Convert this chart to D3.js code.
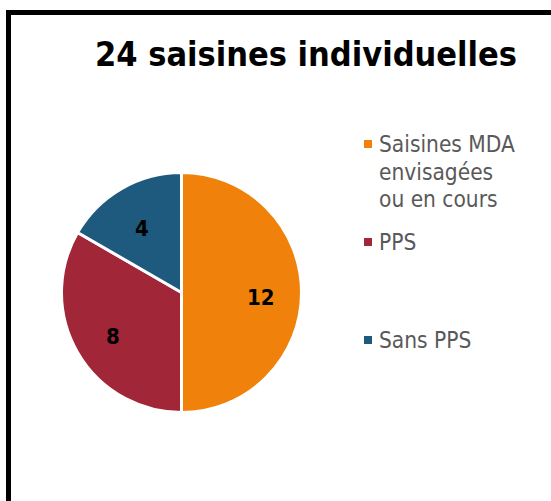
<!DOCTYPE html>
<html>
<head>
<meta charset="utf-8">
<script src="https://cdn.jsdelivr.net/npm/d3@7"></script>
<style>
  body { margin: 0; background: #fff; }
</style>
</head>
<body>
<div class="canvas"></div>
<script>
const categories = ['Saisines MDA envisagées ou en cours', 'PPS', 'Sans PPS'];
const legendLines = [['Saisines MDA', 'envisagées', 'ou en cours'], ['PPS'], ['Sans PPS']];
const values = [12, 8, 4];
const colours = ['#f0820b', '#a02638', '#1e5a7d'];
const title = '24 saisines individuelles';

const dims = { width: 551, height: 501, radius: 120 };
const cent = { x: 181.5, y: 292.5 };
const font = '"DejaVu Sans Condensed", "DejaVu Sans", sans-serif';

const svg = d3.select('.canvas')
    .append('svg')
    .attr('width', dims.width)
    .attr('height', dims.height)
;

// frame, runs off the right / bottom edge
svg.append('rect')
    .attr('x', 8.5).attr('y', 12.5)
    .attr('width', 600).attr('height', 600)
    .attr('fill', 'none')
    .attr('stroke', '#000')
    .attr('stroke-width', 5)
;

svg.append('text')
    .attr('x', 306).attr('y', 66)
    .attr('text-anchor', 'middle')
    .attr('font-family', font)
    .attr('font-weight', 'bold')
    .attr('font-size', 34)
    .attr('fill', '#000')
    .text(title)
;

const colour = d3.scaleOrdinal().domain(categories).range(colours);

const pie = d3.pie().sort(null).value(d => d.value);
const data = categories.map((c, i) => ({ name: c, value: values[i] }));

const arcPath = d3.arc().outerRadius(dims.radius).innerRadius(0);
const labelArc = d3.arc().outerRadius(dims.radius * 1.32).innerRadius(0);

const graph = svg.append('g')
    .attr('transform', `translate(${cent.x}, ${cent.y})`);

graph.selectAll('path')
    .data(pie(data))
    .enter().append('path')
    .attr('d', arcPath)
    .attr('fill', d => colour(d.data.name))
    .attr('stroke', '#fff')
    .attr('stroke-width', 3)
;

graph.selectAll('text')
    .data(pie(data))
    .enter().append('text')
    .attr('transform', d => `translate(${labelArc.centroid(d)})`)
    .attr('dy', '0.55em')
    .attr('text-anchor', 'middle')
    .attr('font-family', font)
    .attr('font-weight', 'bold')
    .attr('font-size', 22)
    .attr('fill', '#000')
    .text(d => d.data.value)
;

// legend
const legendGroup = svg.append('g').attr('transform', 'translate(364, 144)');
const items = legendGroup.selectAll('g')
    .data(categories)
    .enter().append('g')
    .attr('transform', (d, i) => `translate(0, ${i * 98})`);

items.append('rect')
    .attr('x', 0).attr('y', -4)
    .attr('width', 8).attr('height', 8)
    .attr('fill', d => colour(d));

items.append('text')
    .attr('font-family', font)
    .attr('font-size', 22.5)
    .attr('fill', '#595959')
    .selectAll('tspan')
    .data((d, i) => legendLines[i])
    .enter().append('tspan')
    .attr('x', 15)
    .attr('y', (d, j) => 8 + j * 27.5)
    .text(d => d)
;
</script>
</body>
</html>
